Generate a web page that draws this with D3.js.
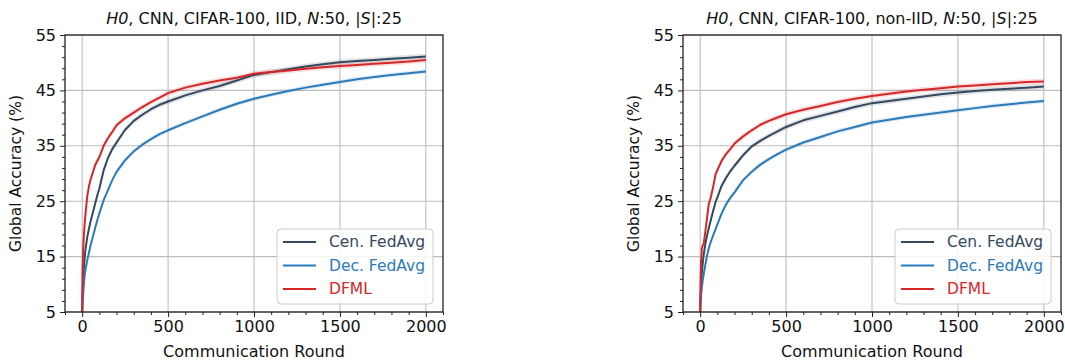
<!DOCTYPE html>
<html><head><meta charset="utf-8">
<script src="https://cdn.jsdelivr.net/npm/d3@7"></script>
<style>
html,body{margin:0;padding:0;background:#fff;}
svg{display:block;font-family:"DejaVu Sans",sans-serif;}
</style></head>
<body><svg id="c" width="1065" height="360"></svg>
<script>
const rounds = [0,2,5,10,15,20,30,40,50,60,75,90,100,125,150,175,200,250,300,350,400,450,500,600,700,800,900,1000,1100,1200,1300,1400,1500,1600,1700,1800,1900,2000];
const seriesNames = ["Cen. FedAvg","Dec. FedAvg","DFML"];
const seriesColors = ["#34495e","#2b7bb9","#d62728"];
const bandHalf = [0.5,0.4,0.5];
const xTicks = [0,500,1000,1500,2000];
const yTicks = [5,15,25,35,45,55];

const iidCen  = [5,8,10.5,13,15,16.5,18.6,20.1,21.5,22.7,24.5,26.3,27.3,30.6,32.8,34.4,35.6,37.9,39.5,40.6,41.6,42.4,43.0,44.1,45.0,45.8,46.8,47.8,48.3,48.8,49.3,49.7,50.1,50.3,50.5,50.7,50.9,51.1];
const iidDec  = [5,6.5,8,10,11.8,12.8,14.4,15.8,17.2,18.3,20.1,21.8,22.8,25.2,27.0,28.8,30.3,32.4,34.0,35.2,36.2,37.1,37.8,39.1,40.3,41.5,42.6,43.5,44.2,44.9,45.5,46.0,46.5,47.0,47.4,47.8,48.1,48.4];
const iidDfml = [5,12,16,19,21.2,23,26,27.8,29,30,31.5,32.4,33,35,36.4,37.5,38.7,40.0,41.0,42.0,42.9,43.7,44.5,45.5,46.2,46.8,47.3,48.0,48.3,48.6,48.9,49.2,49.4,49.6,49.8,50.0,50.2,50.5];

const nonCen  = [5,7,9.5,12,13.8,15.2,17.3,18.8,20.1,21.4,23.2,24.9,25.7,27.8,29.2,30.4,31.4,33.3,34.9,35.9,36.8,37.6,38.4,39.6,40.4,41.2,42.0,42.7,43.1,43.5,43.9,44.3,44.6,44.9,45.1,45.3,45.5,45.7];
const nonDec  = [5,6.5,8,9.5,10.7,11.7,13.5,15.2,16.5,17.5,18.8,20.0,20.8,22.8,24.4,25.6,26.6,28.8,30.3,31.6,32.6,33.5,34.3,35.6,36.6,37.6,38.4,39.2,39.7,40.2,40.6,41.0,41.4,41.8,42.2,42.5,42.8,43.1];
const nonDfml = [5,10,14,16.5,17.1,17.2,19.5,22,24.5,25.5,27.5,29.9,30.6,32.3,33.5,34.4,35.4,36.7,37.8,38.8,39.5,40.1,40.7,41.5,42.2,42.9,43.5,44.0,44.4,44.8,45.1,45.4,45.7,45.9,46.1,46.3,46.5,46.6];

const panels = [
  {left:65, right:443, title:[["H0",true],[", CNN, CIFAR-100, IID, ",false],["N",true],[":50, |",false],["S",true],["|:25",false]], data:[iidCen,iidDec,iidDfml]},
  {left:683, right:1061, title:[["H0",true],[", CNN, CIFAR-100, non-IID, ",false],["N",true],[":50, |",false],["S",true],["|:25",false]], data:[nonCen,nonDec,nonDfml]}
];
const topY = 35, bottomY = 312, fs = 15.5;
const svg = d3.select("#c");

panels.forEach((p,pi)=>{
  const x = d3.scaleLinear().domain([-100,2100]).range([p.left,p.right]);
  const y = d3.scaleLinear().domain([5,55]).range([bottomY,topY]);
  const g = svg.append("g");
  const clipId = "clip"+pi;
  svg.append("defs").append("clipPath").attr("id",clipId).append("rect")
    .attr("x",p.left).attr("y",topY).attr("width",p.right-p.left).attr("height",bottomY-topY);
  // grid
  g.append("g").selectAll("line").data(xTicks).join("line")
    .attr("x1",d=>x(d)).attr("x2",d=>x(d)).attr("y1",topY).attr("y2",bottomY)
    .attr("stroke","#bdbdbd").attr("stroke-width",1.1);
  g.append("g").selectAll("line").data(yTicks).join("line")
    .attr("y1",d=>y(d)).attr("y2",d=>y(d)).attr("x1",p.left).attr("x2",p.right)
    .attr("stroke","#bdbdbd").attr("stroke-width",1.1);
  // series
  const plot = g.append("g").attr("clip-path",`url(#${clipId})`);
  p.data.forEach((vals,si)=>{
    const pts = rounds.map((r,i)=>[r,vals[i]]);
    const area = d3.area().x(d=>x(d[0])).y0(d=>y(d[1]-bandHalf[si])).y1(d=>y(d[1]+bandHalf[si]));
    plot.append("path").attr("d",area(pts)).attr("fill",seriesColors[si]).attr("opacity",0.15);
  });
  p.data.forEach((vals,si)=>{
    const pts = rounds.map((r,i)=>[r,vals[i]]);
    const line = d3.line().x(d=>x(d[0])).y(d=>y(d[1]));
    plot.append("path").attr("d",line(pts)).attr("fill","none")
      .attr("stroke",seriesColors[si]).attr("stroke-width",2).attr("stroke-linejoin","round");
  });
  // axes
  const xAxis = d3.axisBottom(x).tickValues(xTicks).tickFormat(d3.format("d")).tickSize(5).tickPadding(4);
  const xMinor = d3.axisBottom(x).tickValues(d3.range(-100,2101,100).filter(v=>v%500!==0)).tickSize(3).tickFormat("");
  const yAxis = d3.axisLeft(y).tickValues(yTicks).tickFormat(d3.format("d")).tickSize(5).tickPadding(4);
  const yMinor = d3.axisLeft(y).tickValues(d3.range(5,55.1,2).filter(v=>(v-5)%10!==0)).tickSize(3).tickFormat("");
  [[xAxis,"b"],[xMinor,"b"],[yAxis,"l"],[yMinor,"l"]].forEach(([ax,side])=>{
    const a = g.append("g").attr("transform", side==="b" ? `translate(0,${bottomY})` : `translate(${p.left},0)`).call(ax);
    a.select(".domain").remove();
    a.selectAll("line").attr("stroke","#222").attr("stroke-width",1);
    a.selectAll("text").attr("fill","#111").style("font-size","16px").style("font-family","DejaVu Sans");
  });
  // spines
  g.append("rect").attr("x",p.left).attr("y",topY).attr("width",p.right-p.left).attr("height",bottomY-topY)
    .attr("fill","none").attr("stroke","#222").attr("stroke-width",1.3);
  // title
  const t = g.append("text").attr("x",(p.left+p.right)/2).attr("y",24).attr("text-anchor","middle")
    .style("font-size","16px").attr("fill","#111");
  p.title.forEach(([s,it])=>t.append("tspan").text(s).style("font-style",it?"italic":"normal"));
  // axis labels
  g.append("text").attr("x",(p.left+p.right)/2).attr("y",357).attr("text-anchor","middle")
    .style("font-size","16px").attr("fill","#111").text("Communication Round");
  g.append("text").attr("transform",`translate(${p.left-44},${(topY+bottomY)/2}) rotate(-90)`)
    .attr("text-anchor","middle").style("font-size",fs+"px").attr("fill","#111").text("Global Accuracy (%)");
  // legend
  const lx = p.right-166, ly = 229;
  const lg = g.append("g");
  lg.append("rect").attr("x",lx).attr("y",ly).attr("width",156).attr("height",75).attr("rx",4)
    .attr("fill","#fff").attr("fill-opacity",0.85).attr("stroke","#cccccc").attr("stroke-width",1);
  seriesNames.forEach((n,si)=>{
    const yy = ly+13+si*23.5;
    lg.append("line").attr("x1",lx+6).attr("x2",lx+39).attr("y1",yy).attr("y2",yy)
      .attr("stroke",seriesColors[si]).attr("stroke-width",2);
    lg.append("text").attr("x",lx+52).attr("y",yy).attr("dy","0.35em")
      .style("font-size",fs+"px").attr("fill",seriesColors[si]).text(n);
  });
});
</script></body></html>
